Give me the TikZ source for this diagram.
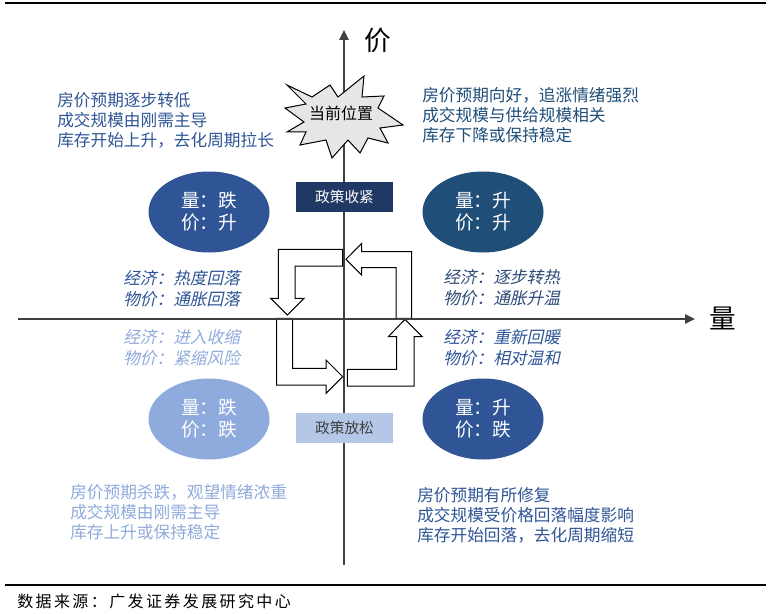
\documentclass[tikz,border=0pt]{standalone}
\usepackage{fontspec}
\setmainfont{Noto Sans CJK SC}
\newfontfamily\cjkit[FakeSlant=0.22]{Noto Sans CJK SC}
\newfontfamily\cjksrc[LetterSpace=15]{Noto Sans CJK SC}
\usetikzlibrary{shapes.geometric,arrows.meta}
\definecolor{tlblue}{HTML}{2F5597}
\definecolor{trblue}{HTML}{1F4E79}
\definecolor{ltblue}{HTML}{8FAADC}
\definecolor{navy}{HTML}{203864}
\definecolor{paleblue}{HTML}{B4C7E7}
\definecolor{axisgray}{HTML}{404040}
\definecolor{stargray}{HTML}{E6E6E6}
\definecolor{itright}{HTML}{2E4A78}
\begin{document}
\begin{tikzpicture}[x=0.75pt,y=-0.75pt,
  blockarrow/.style={draw=black, fill=white, line width=0.75pt, line join=miter},
  axisline/.style={draw=axisgray, line width=1.5pt, -{Triangle[width=7pt,length=7.5pt]}},
  rule/.style={draw=black, line width=0.9pt},
  ell/.style={ellipse, minimum width=90.75pt, minimum height=60.75pt, inner sep=0pt, text=white, align=center, font=\fontsize{14}{16.5}\selectfont},
  quadtext/.style={anchor=west, inner sep=0pt, align=left, font=\fontsize{12.5}{15}\selectfont},
  ittext/.style={anchor=west, inner sep=0pt, align=left, font=\cjkit\fontsize{12.5}{15.5}\selectfont},
  policy/.style={rectangle, minimum width=72.75pt, minimum height=22.5pt, inner sep=0pt, font=\fontsize{11}{13}\selectfont},
  axlabel/.style={inner sep=0pt, font=\fontsize{20}{22}\selectfont}
]
\fill[white] (0,0) rectangle (773,613);
\useasboundingbox (0,0) rectangle (773,613);

% rules
\coordinate (r1a) at (5,3); \coordinate (r1b) at (766,3);
\coordinate (r2a) at (5,585); \coordinate (r2b) at (766,585);
\draw[rule] (r1a) -- (r1b);
\draw[rule] (r2a) -- (r2b);

% block arrows
\draw[blockarrow] (342.7,249.3) -- (278.3,249.3) -- (278.3,298.3) -- (270.7,298.3) -- (287.3,315) -- (304,298.3) -- (295,298.3) -- (295,266) -- (342.7,266) -- cycle;
\draw[blockarrow] (346,259.3) -- (361.7,243.3) -- (361.7,251.7) -- (411.7,251.7) -- (411.7,318.3) -- (396,318.3) -- (396,267.7) -- (361.7,267.7) -- (361.7,275) -- cycle;
\draw[blockarrow] (276.7,318.3) -- (292.7,318.3) -- (292.7,368.3) -- (326,368.3) -- (326,360) -- (342.7,376.7) -- (326,393.3) -- (326,385) -- (276.7,385) -- cycle;
\draw[blockarrow] (347.3,369.3) -- (396.7,369.3) -- (396.7,336.7) -- (388.3,336.7) -- (405,319.3) -- (422.3,336.7) -- (414,336.7) -- (414,386) -- (347.3,386) -- cycle;

% axes
\coordinate (vb) at (344,565); \coordinate (vt) at (344,30);
\coordinate (hl) at (18,319); \coordinate (hr) at (695,319);
\draw[axisline] (vb) -- (vt);
\draw[axisline] (hl) -- (hr);
\node[axlabel] (jia) at (378,40) {价};
\node[axlabel] (liang) at (723,318) {量};

% starburst
\draw[fill=stargray, draw=black, line width=0.75pt, line join=miter]
 (287,85) -- (312,97) -- (330,85) -- (338,97) -- (364,76) -- (362,97) -- (384,96) -- (378,108) -- (403,125) -- (380,128) -- (388,143) -- (368,138) -- (360,153) -- (348,140) -- (332,158) -- (326,140) -- (300,145) -- (306,132) -- (287,132) -- (304,122) -- (285,108) -- (306,104) -- cycle;
\node[inner sep=0pt, font=\fontsize{12}{14}\selectfont] (cur) at (341,113) {当前位置};

% policy boxes
\node[policy, fill=navy, text=white] (tight) at (344.5,197) {政策收紧};
\node[policy, fill=paleblue, text=axisgray] (loose) at (344.5,427.5) {政策放松};

% ellipses
\node[ell, fill=tlblue] (e1) at (209,212) {量：跌\\价：升};
\node[ell, fill=trblue] (e2) at (483,212) {量：升\\价：升};
\node[ell, fill=ltblue] (e3) at (209,419) {量：跌\\价：跌};
\node[ell, fill=tlblue] (e4) at (483,419) {量：升\\价：跌};

% quadrant texts
\node[quadtext, text=tlblue] (t1) at (57,120) {房价预期逐步转低\\成交规模由刚需主导\\库存开始上升，去化周期拉长};
\node[quadtext, text=trblue] (t2) at (422,115) {房价预期向好，追涨情绪强烈\\成交规模与供给规模相关\\库存下降或保持稳定};
\node[quadtext, text=ltblue] (t3) at (70,512) {房价预期杀跌，观望情绪浓重\\成交规模由刚需主导\\库存上升或保持稳定};
\node[quadtext, text=tlblue] (t4) at (417,515) {房价预期有所修复\\成交规模受价格回落幅度影响\\库存开始回落，去化周期缩短};

% italic economy texts
\node[ittext, text=tlblue] (i1) at (123,288.5) {经济：热度回落\\物价：通胀回落};
\node[ittext, text=ltblue] (i2) at (123,348) {经济：进入收缩\\物价：紧缩风险};
\node[ittext, text=itright] (i3) at (443,288) {经济：逐步转热\\物价：通胀升温};
\node[ittext, text=tlblue] (i4) at (443,348) {经济：重新回暖\\物价：相对温和};

% source
\node[anchor=west, inner sep=0pt, font=\cjksrc\fontsize{12}{14}\selectfont] (src) at (17,601) {数据来源：广发证券发展研究中心};
\end{tikzpicture}
\end{document}
